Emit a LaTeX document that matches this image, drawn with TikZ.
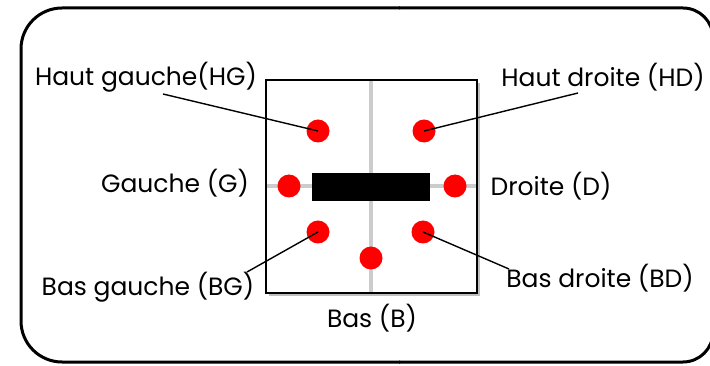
\documentclass[tikz,border=0pt]{standalone}
\usepackage{fontspec}
\setmainfont{Poppins}
\begin{document}
\begin{tikzpicture}[x=1pt,y=-1pt,
  dot/.style={circle,fill=red,minimum size=23pt,inner sep=0pt},
  lbl/.style={font=\fontsize{25}{27}\selectfont,inner sep=0pt,anchor=base},
  leader/.style={line width=1.4pt},
  frame/.style={line width=3pt},
  guide/.style={line width=4pt,color=black!20}]
\useasboundingbox (0,0) rectangle (710,366);
% outer frame
\draw[frame,rounded corners=41pt] (400,8) -- (21,8) -- (21,362) -- (400,362);
\draw[frame,rounded corners=30pt] (399,8) -- (713,8) -- (713,362) -- (399,362);
% shadow and inner square
\fill[black!25] (269,83) rectangle (480,296);
\draw[line width=2pt,fill=white] (266,80) rectangle (477,293);
% guides
\draw[guide] (371,81) -- (371,292);
\draw[guide] (267,186) -- (476,186);
% black bar
\node[fill=black,minimum width=118pt,minimum height=28pt,inner sep=0pt] (bar) at (371,187) {};
% dots
\node[dot] (hg) at (318,131) {};
\node[dot] (hd) at (424,131) {};
\node[dot] (g) at (289,186) {};
\node[dot] (d) at (455,186) {};
\node[dot] (bg) at (318,232) {};
\node[dot] (bd) at (423,232) {};
\node[dot] (b) at (371,258) {};
% labels
\node[lbl] (thg) at (146,86) {Haut gauche(HG)};
\node[lbl] (thd) at (603,87) {Haut droite (HD)};
\node[lbl] (tg) at (175,193) {Gauche (G)};
\node[lbl] (td) at (551,196) {Droite (D)};
\node[lbl] (tbg) at (148,295) {Bas gauche (BG)};
\node[lbl] (tbd) at (600,288) {Bas droite (BD)};
\node[lbl] (tb) at (372,327) {Bas (B)};
% leaders
\coordinate (lhg) at (163,94);
\coordinate (lhd) at (578,93);
\coordinate (lbg) at (247,272);
\coordinate (lbd) at (509,269);
\draw[leader] (lhg) -- (hg.center);
\draw[leader] (lhd) -- (hd.center);
\draw[leader] (lbg) -- (bg.center);
\draw[leader] (lbd) -- (bd.center);
\end{tikzpicture}
\end{document}
